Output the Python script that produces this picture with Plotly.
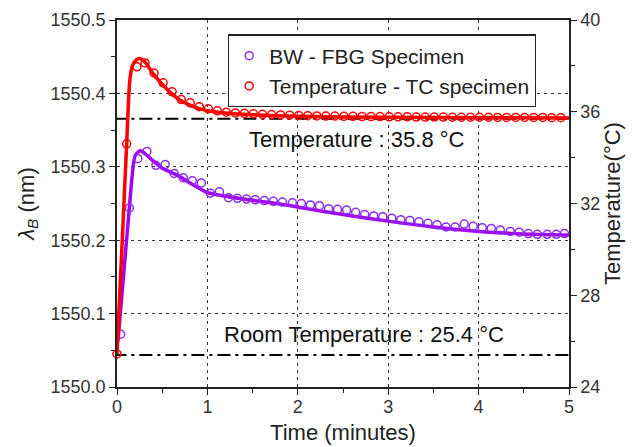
import plotly.graph_objects as go

# ---- data ----
bw_time = [0.04, 0.137, 0.23, 0.33, 0.43, 0.533, 0.633, 0.733, 0.833, 0.933,
           1.033, 1.133, 1.233, 1.333, 1.433, 1.53, 1.63, 1.73, 1.83, 1.94,
           2.04, 2.14, 2.24, 2.34, 2.44, 2.54, 2.64, 2.74, 2.84, 2.94,
           3.04, 3.14, 3.24, 3.34, 3.44, 3.54, 3.64, 3.74, 3.84, 3.94,
           4.04, 4.14, 4.24, 4.35, 4.45, 4.55, 4.65, 4.76, 4.86, 4.95]
bw_nm = [1550.072, 1550.244, 1550.311, 1550.321, 1550.302, 1550.303, 1550.291, 1550.285, 1550.281, 1550.278,
         1550.264, 1550.266, 1550.258, 1550.257, 1550.256, 1550.255, 1550.254, 1550.253, 1550.252, 1550.251,
         1550.250, 1550.248, 1550.247, 1550.243, 1550.242, 1550.241, 1550.238, 1550.235, 1550.233, 1550.232,
         1550.230, 1550.228, 1550.227, 1550.225, 1550.223, 1550.221, 1550.218, 1550.218, 1550.222, 1550.219,
         1550.217, 1550.216, 1550.214, 1550.212, 1550.211, 1550.209, 1550.208, 1550.208, 1550.208, 1550.209]

bw_fit_time = [0.01, 0.137, 0.2, 0.255, 0.3, 0.4, 0.5, 0.66, 0.85, 1.0, 1.4, 1.77, 2.1, 2.5, 3.0, 3.5, 4.0, 4.5, 5.0]
bw_fit_nm = [1550.062, 1550.245, 1550.315, 1550.322, 1550.319, 1550.308, 1550.298, 1550.289, 1550.275, 1550.265,
             1550.256, 1550.250, 1550.243, 1550.235, 1550.226, 1550.218, 1550.212, 1550.2085, 1550.207]

tc_time = [0.0, 0.107, 0.22, 0.31, 0.41, 0.51, 0.61, 0.71, 0.81, 0.91,
           1.01, 1.11, 1.21, 1.31, 1.41, 1.51, 1.61, 1.71, 1.81, 1.91,
           2.01, 2.11, 2.21, 2.31, 2.41, 2.51, 2.61, 2.71, 2.81, 2.91,
           3.01, 3.11, 3.21, 3.31, 3.41, 3.51, 3.61, 3.71, 3.81, 3.91,
           4.01, 4.11, 4.21, 4.31, 4.41, 4.51, 4.61, 4.71, 4.81, 4.91]
tc_temp = [25.44, 34.6, 37.96, 38.13, 37.69, 37.26, 36.87, 36.53, 36.39, 36.22,
           36.13, 36.04, 35.98, 35.95, 35.93, 35.91, 35.89, 35.88, 35.86, 35.85,
           35.84, 35.83, 35.82, 35.81, 35.81, 35.80, 35.80, 35.79, 35.79, 35.79,
           35.78, 35.78, 35.78, 35.77, 35.77, 35.77, 35.77, 35.76, 35.76, 35.76,
           35.76, 35.76, 35.75, 35.75, 35.75, 35.75, 35.75, 35.75, 35.74, 35.74]

tc_fit_time = [0.0, 0.05, 0.107, 0.14, 0.17, 0.21, 0.255, 0.3, 0.35, 0.4, 0.5, 0.6, 0.7, 0.8,
               0.9, 1.0, 1.2, 1.5, 2.0, 3.0, 4.0, 5.0]
tc_fit_temp = [25.44, 29.7, 34.6, 37.3, 38.0, 38.25, 38.32, 38.2, 37.95, 37.65, 37.2, 36.8, 36.5, 36.3,
               36.15, 36.05, 35.95, 35.87, 35.8, 35.76, 35.74, 35.73]

ref_time = [-0.04, 5]
steady_temp = [35.7, 35.7]
room_temp = [25.4, 25.4]

purple_line = "#A300F5"
purple_mark = "#8C2BF0"
red = "#FF0000"
font = "Liberation Sans, Arial, sans-serif"

fig = go.Figure()

fig.add_trace(go.Scatter(x=ref_time, y=steady_temp, mode="lines", yaxis="y2", showlegend=False,
                         cliponaxis=False,
                         line=dict(color="black", width=2, dash="13px,5px,3px,5px")))
fig.add_trace(go.Scatter(x=ref_time, y=room_temp, mode="lines", yaxis="y2", showlegend=False,
                         cliponaxis=False,
                         line=dict(color="black", width=2, dash="13px,5px,3px,5px")))

fig.add_trace(go.Scatter(x=bw_fit_time, y=bw_fit_nm, mode="lines", showlegend=False,
                         line=dict(color=purple_line, width=3.5, shape="spline", smoothing=0.6)))
fig.add_trace(go.Scatter(x=tc_fit_time, y=tc_fit_temp, mode="lines", yaxis="y2", showlegend=False,
                         line=dict(color=red, width=3.5, shape="spline", smoothing=0.6)))

fig.add_trace(go.Scatter(x=bw_time, y=bw_nm, mode="markers", name="BW - FBG Specimen",
                         cliponaxis=False,
                         marker=dict(symbol="circle-open", size=8, color=purple_mark, line=dict(width=1.5))))
fig.add_trace(go.Scatter(x=tc_time, y=tc_temp, mode="markers", name="Temperature - TC specimen",
                         yaxis="y2", cliponaxis=False,
                         marker=dict(symbol="circle-open", size=8, color=red, line=dict(width=1.5))))

fig.add_annotation(x=1.46, y=34.8, xref="x", yref="y2", text="Temperature : 35.8 °C",
                   showarrow=False, xanchor="left", xshift=-2,
                   font=dict(size=22, color="#111", family=font))
fig.add_annotation(x=1.18, y=26.3, xref="x", yref="y2", text="Room Temperature : 25.4 °C",
                   showarrow=False, xanchor="left", xshift=-2,
                   font=dict(size=22, color="#111", family=font))

axis_common = dict(showline=True, linecolor="#222", linewidth=1.5, ticks="outside", ticklen=6,
                   tickcolor="#222", tickwidth=1.2, automargin=False,
                   tickfont=dict(size=18, color="#333", family=font), zeroline=False)

fig.update_layout(
    width=643, height=447,
    margin=dict(l=117, r=74, t=20, b=60, autoexpand=False),
    plot_bgcolor="white", paper_bgcolor="white",
    font=dict(family=font, color="#222"),
    xaxis=dict(range=[0, 5], dtick=1, mirror=True, ticklabelstandoff=-3,
               showgrid=True, gridcolor="#333", griddash="3px,4px", gridwidth=1,
               minor=dict(dtick=0.5, ticks="outside", ticklen=4, tickcolor="#222", showgrid=False),
               title=dict(text="Time (minutes)", font=dict(size=22, color="#222", family=font), standoff=8),
               **axis_common),
    yaxis=dict(range=[1550.0, 1550.5], dtick=0.1, tickformat=".1f", mirror=False,
               showgrid=True, gridcolor="#333", griddash="3px,4px", gridwidth=1,
               minor=dict(dtick=0.05, ticks="outside", ticklen=4, tickcolor="#222", showgrid=False),
               title=dict(text="<i>λ<sub>B</sub></i> (nm)", font=dict(size=22, color="#222", family=font),
                          standoff=10),
               **axis_common),
    yaxis2=dict(range=[24, 40], dtick=4, overlaying="y", side="right", showgrid=False,
                minor=dict(dtick=2, ticks="outside", ticklen=4, tickcolor="#222", showgrid=False),
                title=dict(text="Temperature(°C)", font=dict(size=22, color="#222", family=font),
                           standoff=2),
                **axis_common),
    legend=dict(x=0.2456, y=0.961, xanchor="left", yanchor="top", tracegroupgap=0,
                bgcolor="white", bordercolor="#222", borderwidth=1.2,
                font=dict(size=21, color="#222", family=font)),
)

fig.write_html("out.html")
